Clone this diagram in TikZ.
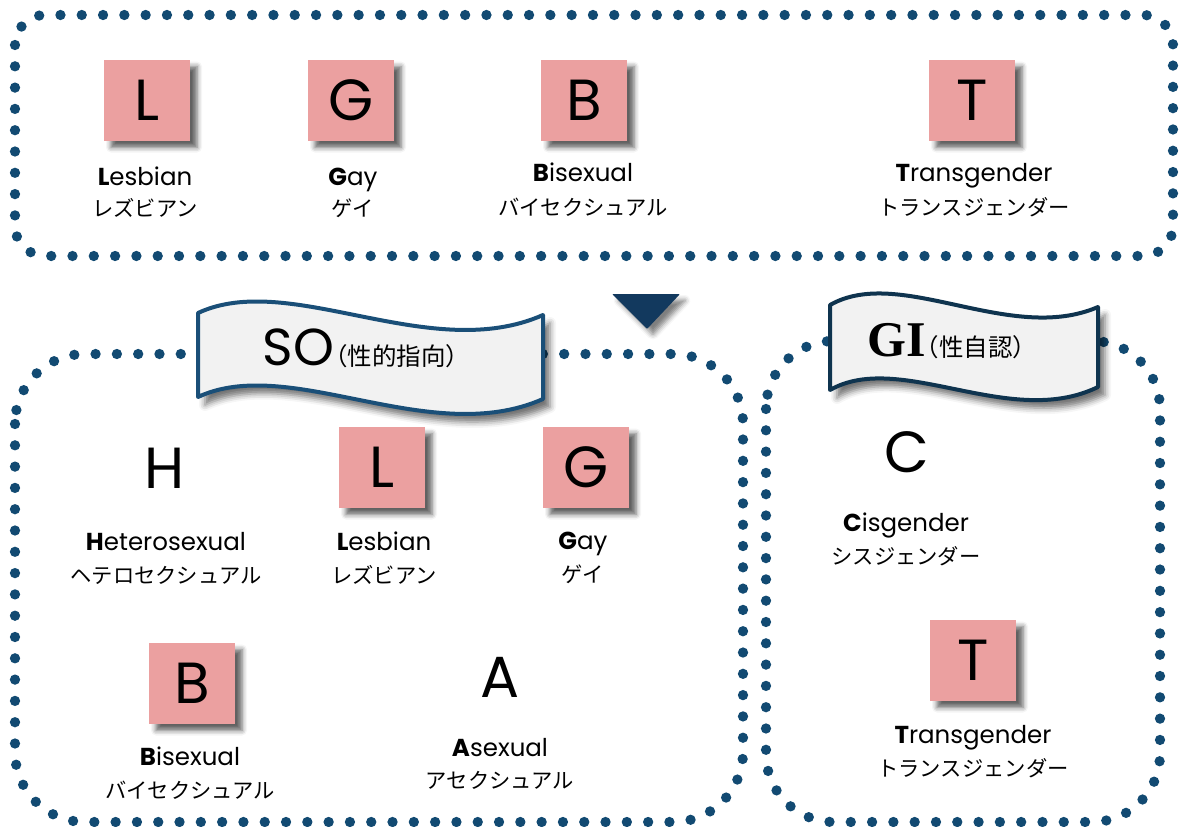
\documentclass[tikz,border=0pt]{standalone}
\usepackage{fontspec}
\setmainfont{Poppins}
\newfontfamily\jp{Noto Sans CJK JP}
\newfontfamily\gifont{Liberation Serif}
\usetikzlibrary{shadows.blur}
\definecolor{dotblue}{HTML}{124A72}
\definecolor{pinkc}{HTML}{EBA0A0}
\definecolor{bannerfill}{HTML}{F2F2F2}
\definecolor{soline}{HTML}{1A4F78}
\definecolor{giline}{HTML}{0F344F}
\definecolor{trifill}{HTML}{12395E}
\begin{document}
\begin{tikzpicture}[x=1pt,y=-1pt,
  dotbox/.style={draw=dotblue, line width=10.3pt, line cap=round, dash pattern=on 0pt off 21.3pt},
  pinkbox/.style={fill=pinkc, minimum width=86pt, minimum height=81pt, inner sep=0pt,
     blur shadow={shadow xshift=7pt, shadow yshift=-7pt, shadow blur radius=5pt, shadow opacity=62},
     font=\fontsize{58}{60}\selectfont},
  bigletter/.style={inner sep=0pt, font=\fontsize{58}{60}\selectfont},
  enlabel/.style={anchor=base, inner sep=0pt, font=\fontsize{24.5}{28}\selectfont},
  jplabel/.style={anchor=base, inner sep=0pt, font=\jp\fontsize{21.3}{24}\selectfont},
  bannershadow/.style={blur shadow={shadow xshift=7pt, shadow yshift=-8pt, shadow blur radius=6pt, shadow opacity=55}}
]
\useasboundingbox (0,0) rectangle (1179,827);

% dotted boxes
\draw[dotbox, rounded corners=30pt] (15,15) rectangle (1173,256);
\draw[dotbox, rounded corners=70pt] (15,354) rectangle (743,822);
\draw[dotbox, rounded corners=68pt] (766,341) rectangle (1160,822);

% triangle
\path[fill=trifill, blur shadow={shadow xshift=6pt, shadow yshift=-6pt, shadow blur radius=5pt, shadow opacity=50}, rounded corners=1pt]
  (612,294) -- (680,294) -- (647,329) -- cycle;

% top row
\node[pinkbox] (tL) at (147,100) {L};
\node[pinkbox] (tG) at (351,100) {G};
\node[pinkbox] (tB) at (584,100) {B};
\node[pinkbox] (tT) at (972,100) {T};
\node[enlabel] (tLen) at (145,185) {\textbf{L}esbian};
\node[jplabel] (tLjp) at (145,216) {レズビアン};
\node[enlabel] (tGen) at (353,185) {\textbf{G}ay};
\node[jplabel] (tGjp) at (353,216) {ゲイ};
\node[enlabel] (tBen) at (583,181) {\textbf{B}isexual};
\node[jplabel] (tBjp) at (583,215) {バイセクシュアル};
\node[enlabel] (tTen) at (974,181) {\textbf{T}ransgender};
\node[jplabel] (tTjp) at (974,215) {トランスジェンダー};

% SO box content
\node[bigletter] (sH) at (165,468) {H};
\node[enlabel] (sHen) at (166,550) {\textbf{H}eterosexual};
\node[jplabel] (sHjp) at (166,583) {ヘテロセクシュアル};
\node[pinkbox] (sL) at (382,467) {L};
\node[enlabel] (sLen) at (384,550) {\textbf{L}esbian};
\node[jplabel] (sLjp) at (384,583) {レズビアン};
\node[pinkbox] (sG) at (586,467) {G};
\node[enlabel] (sGen) at (583,549) {\textbf{G}ay};
\node[jplabel] (sGjp) at (583,582) {ゲイ};
\node[pinkbox] (sB) at (192,683) {B};
\node[enlabel] (sBen) at (190,765) {\textbf{B}isexual};
\node[jplabel] (sBjp) at (190,798) {バイセクシュアル};
\node[bigletter] (sA) at (500,677) {A};
\node[enlabel] (sAen) at (500,756) {\textbf{A}sexual};
\node[jplabel] (sAjp) at (500,788) {アセクシュアル};

% GI box content
\node[bigletter] (gC) at (907,452) {C};
\node[enlabel] (gCen) at (906,531) {\textbf{C}isgender};
\node[jplabel] (gCjp) at (906,564) {シスジェンダー};
\node[pinkbox] (gT) at (973,660) {T};
\node[enlabel] (gTen) at (973,743) {\textbf{T}ransgender};
\node[jplabel] (gTjp) at (973,776) {トランスジェンダー};

% SO banner
\path[fill=bannerfill, draw=soline, line width=4pt, line join=round, bannershadow]
  (198,313) .. controls (290,270) and (430,365) .. (543,315)
  -- (543,399) .. controls (430,449) and (290,354) .. (198,397) -- cycle;
\node[anchor=base, inner sep=0pt] (soT) at (362,365)
  {{\fontsize{52}{54}\selectfont SO}{\jp\fontsize{24.5}{26}\selectfont\kern-11pt（性的指向）\kern-9pt}};

% GI banner
\path[fill=bannerfill, draw=giline, line width=4pt, line join=round, bannershadow]
  (830,305) .. controls (900,265) and (1010,345) .. (1098,307)
  -- (1098,387) .. controls (1010,430) and (900,350) .. (830,390) -- cycle;
\node[anchor=base, inner sep=0pt] (giT) at (948,356)
  {{\gifont\bfseries\fontsize{50}{52}\selectfont GI}{\jp\fontsize{24.5}{26}\selectfont\kern-11pt（性自認）\kern-9pt}};
\end{tikzpicture}
\end{document}
